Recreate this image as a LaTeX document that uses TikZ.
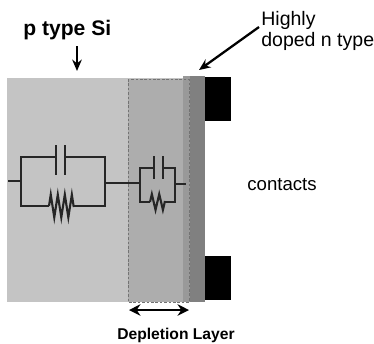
\documentclass[tikz,border=0pt]{standalone}
\usepackage{fontspec}
\setmainfont{Liberation Sans}
\usetikzlibrary{positioning}
\usetikzlibrary{arrows.meta}
\usetikzlibrary{decorations.pathmorphing}
\tikzset{
	wire/.style={line width=1.2pt, black!85},
	plate/.style={line width=1.7pt, black!85},
	smallplate/.style={line width=1.25pt, black!85},
	res/.style={wire, decorate, decoration={zigzag, segment length=4pt, amplitude=6.5pt}},
	smallres/.style={wire, decorate, decoration={zigzag, segment length=4.2pt, amplitude=4.5pt}},
	pointer/.style={-{Stealth[length=6.5pt,width=5.5pt]}, line width=1.3pt},
	both/.style={{Stealth[length=6.5pt,width=6.5pt]}-{Stealth[length=6.5pt,width=6.5pt]}, line width=1.5pt},
	label/.style={inner sep=0pt, anchor=west, align=left}
}
\begin{document}
\begin{tikzpicture}[x=0.02cm,y=-0.02cm]
		\useasboundingbox (0,0) rectangle (374,343);
		% regions
		\fill[black!23] (7,78) rectangle (186,302);
		\fill[black!32] (128,79) rectangle (186,302);
		\fill[black!40] (183,76) rectangle (190,302);
		\fill[black!50] (190,76) rectangle (205,302);
		\fill[black] (205,77) rectangle (231,121);
		\fill[black] (205,256) rectangle (231,300);
		\draw[black!55, dash pattern=on 1.5pt off 1pt, line width=0.25pt] (128,79) rectangle (189,302);
		% labels
		\node (ptype) [label, font=\fontsize{12}{14}\selectfont\bfseries] at (23,30) {p type Si};
		\node (highly) [label, anchor=north west, font=\fontsize{11.1}{12}\selectfont] at (261,11) {Highly\\doped n type};
		\node (contacts) [label, font=\fontsize{10.6}{12}\selectfont] at (247,185) {contacts};
		\node (depletion) [label, font=\fontsize{8.9}{11}\selectfont\bfseries] at (117,335) {Depletion Layer};
		% arrows
		\coordinate (ptop) at (77,46);
		\coordinate (pend) at (77,71);
		\coordinate (nstart) at (259,27);
		\coordinate (nend) at (199,70);
		\coordinate (dl) at (129,310);
		\coordinate (dr) at (189,310);
		\draw[pointer] (ptop) -- (pend);
		\draw[pointer] (nstart) -- (nend);
		\draw[both] (dl) -- (dr);
		% large circuit
		\coordinate (a0) at (8,181);
		\coordinate (a1) at (21,181);
		\coordinate (a2) at (21,157);
		\coordinate (a3) at (56,157);
		\coordinate (a4) at (65,157);
		\coordinate (a5) at (105,157);
		\coordinate (a6) at (105,206);
		\coordinate (a7) at (74,206);
		\coordinate (a8) at (49,206);
		\coordinate (a9) at (21,206);
		\draw[wire] (a0) -- (a1);
		\draw[wire] (a3) -- (a2) -- (a9) -- (a8);
		\draw[wire] (a4) -- (a5) -- (a6) -- (a7);
		\draw[res] (a8) -- (a7);
		\draw[plate] (56,145) -- (56,175);
		\draw[plate] (65,145) -- (65,175);
		% small circuit
		\coordinate (b0) at (105,183);
		\coordinate (b1) at (140,183);
		\coordinate (b2) at (140,168);
		\coordinate (b3) at (154,168);
		\coordinate (b4) at (163,168);
		\coordinate (b5) at (175,168);
		\coordinate (b6) at (175,202);
		\coordinate (b7) at (165,202);
		\coordinate (b8) at (150,202);
		\coordinate (b9) at (140,202);
		\coordinate (b10) at (186,184);
		\coordinate (b11) at (175,184);
		\draw[wire] (b0) -- (b1);
		\draw[wire] (b11) -- (b10);
		\draw[wire] (b3) -- (b2) -- (b9) -- (b8);
		\draw[wire] (b4) -- (b5) -- (b6) -- (b7);
		\draw[smallres] (b8) -- (b7);
		\draw[smallplate] (154,156) -- (154,179);
		\draw[smallplate] (163,156) -- (163,179);
		\end{tikzpicture}
\end{document}
